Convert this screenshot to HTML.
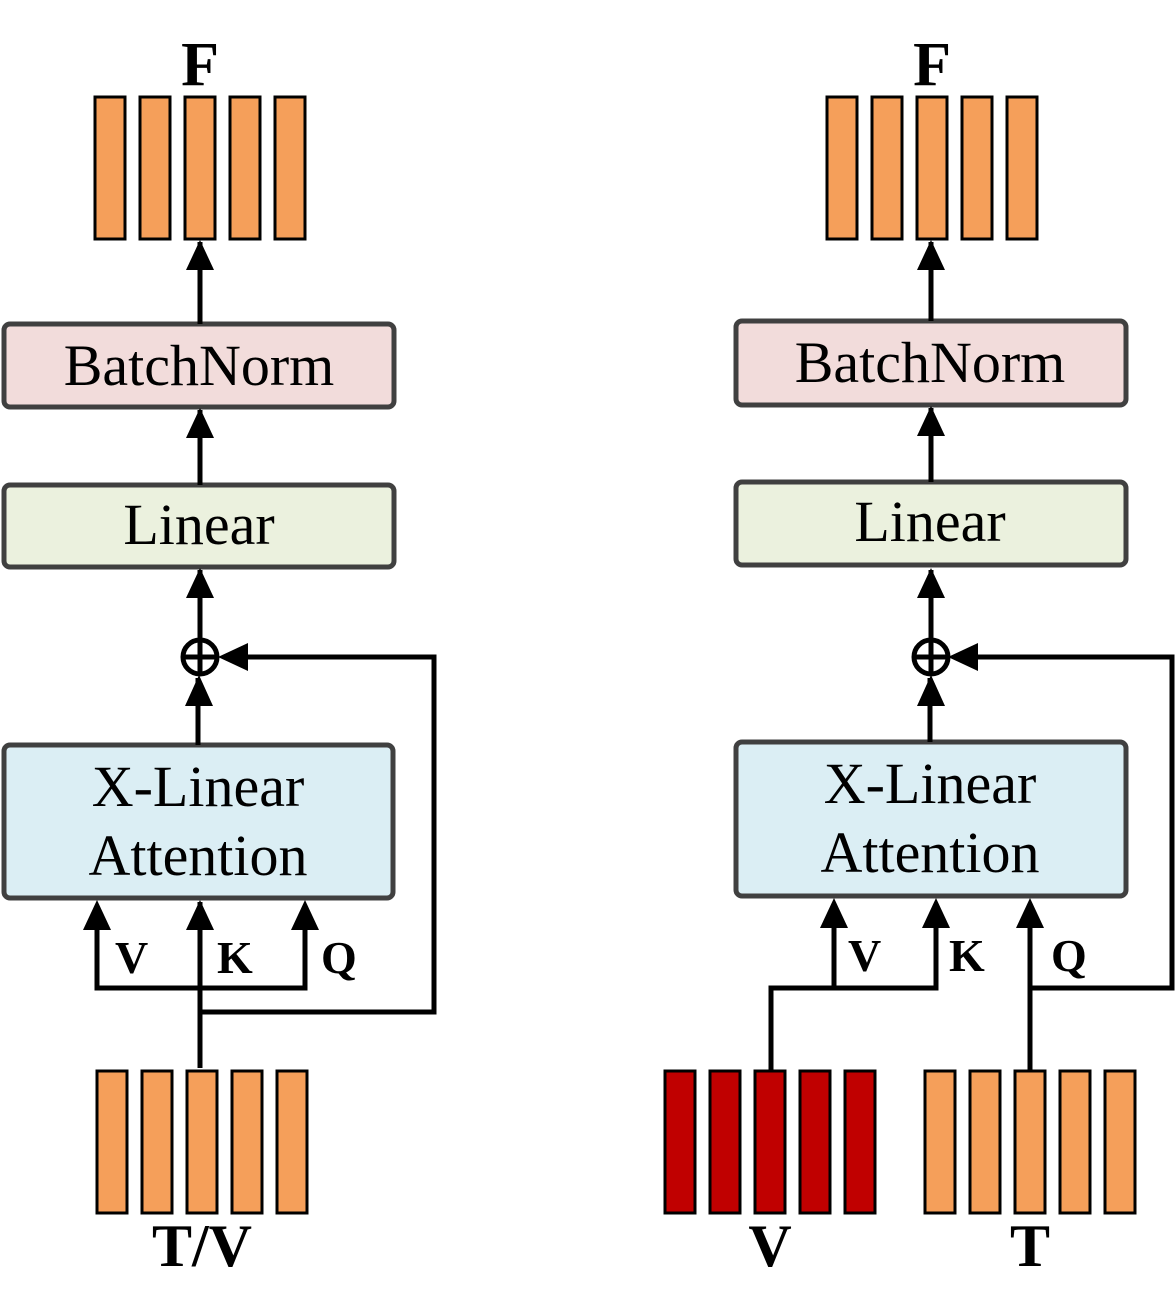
<!DOCTYPE html>
<html><head><meta charset="utf-8"><style>html,body{margin:0;padding:0;background:#fff}svg{display:block}</style></head><body>
<svg width="1175" height="1313" viewBox="0 0 1175 1313" xmlns="http://www.w3.org/2000/svg" font-family="'Liberation Serif', serif">
<style>
.bo{fill:#f59f5a;stroke:#000;stroke-width:3}
.br{fill:#c00000;stroke:#000;stroke-width:3}
.ln{stroke:#000;stroke-width:5;fill:none}
.box{stroke:#404040;stroke-width:5}
.t{font-size:58px}
</style>
<!-- LEFT -->
<g>
<rect class="bo" x="95" y="97" width="30" height="142"/><rect class="bo" x="140" y="97" width="30" height="142"/><rect class="bo" x="185" y="97" width="30" height="142"/><rect class="bo" x="230" y="97" width="30" height="142"/><rect class="bo" x="275" y="97" width="30" height="142"/>
<text x="200" y="85" font-size="62" font-weight="bold" text-anchor="middle">F</text>
<rect class="box" x="4" y="324" width="390" height="83" rx="6" fill="#f2dcdb"/>
<text class="t" x="199" y="385" text-anchor="middle">BatchNorm</text>
<rect class="box" x="4" y="485" width="390" height="82" rx="6" fill="#ebf1de"/>
<text class="t" x="199" y="544" text-anchor="middle">Linear</text>
<rect class="box" x="4" y="745" width="389" height="153" rx="6" fill="#dbeef4"/>
<text class="t" x="198" y="806" text-anchor="middle">X-Linear</text>
<text class="t" x="198" y="875" text-anchor="middle">Attention</text>
<circle cx="200" cy="657" r="17" fill="none" stroke="#000" stroke-width="5"/>
<path class="ln" d="M183,657 H217 M200,640 V674"/>
<path class="ln" d="M200,324 V242"/><path d="M186,270 L200,240 L214,270 z"/>
<path class="ln" d="M200,485 V410"/><path d="M186,438 L200,408 L214,438 z"/>
<path class="ln" d="M200,640 V570"/><path d="M186,598 L200,568 L214,598 z"/>
<path class="ln" d="M198,745 V678"/><path d="M185,706 L199,675 L213,706 z"/>
<path class="ln" d="M200,1012 H434 V657 H240"/><path d="M248,643 L218,657 L248,671 z"/>
<path class="ln" d="M200,1068 V902 M97,930 V988 H305 V930"/>
<path d="M83,930 L97,900 L111,930 z"/><path d="M186,930 L200,900 L214,930 z"/><path d="M291,930 L305,900 L319,930 z"/>
<text x="115" y="973" font-size="46" font-weight="bold">V</text>
<text x="217" y="973" font-size="46" font-weight="bold">K</text>
<text x="321" y="973" font-size="46" font-weight="bold">Q</text>
<rect class="bo" x="97" y="1071" width="30" height="142"/><rect class="bo" x="142" y="1071" width="30" height="142"/><rect class="bo" x="187" y="1071" width="30" height="142"/><rect class="bo" x="232" y="1071" width="30" height="142"/><rect class="bo" x="277" y="1071" width="30" height="142"/>
<text x="202" y="1266" font-size="60" font-weight="bold" text-anchor="middle">T/V</text>
</g>
<!-- RIGHT -->
<g>
<rect class="bo" x="827" y="97" width="30" height="142"/><rect class="bo" x="872" y="97" width="30" height="142"/><rect class="bo" x="917" y="97" width="30" height="142"/><rect class="bo" x="962" y="97" width="30" height="142"/><rect class="bo" x="1007" y="97" width="30" height="142"/>
<text x="932" y="85" font-size="62" font-weight="bold" text-anchor="middle">F</text>
<rect class="box" x="736" y="321" width="390" height="84" rx="6" fill="#f2dcdb"/>
<text class="t" x="930" y="382" text-anchor="middle">BatchNorm</text>
<rect class="box" x="736" y="482" width="390" height="83" rx="6" fill="#ebf1de"/>
<text class="t" x="930" y="541" text-anchor="middle">Linear</text>
<rect class="box" x="736" y="742" width="390" height="154" rx="6" fill="#dbeef4"/>
<text class="t" x="930" y="803" text-anchor="middle">X-Linear</text>
<text class="t" x="930" y="872" text-anchor="middle">Attention</text>
<circle cx="931" cy="657" r="17" fill="none" stroke="#000" stroke-width="5"/>
<path class="ln" d="M914,657 H948 M931,640 V674"/>
<path class="ln" d="M931,321 V242"/><path d="M917,270 L931,240 L945,270 z"/>
<path class="ln" d="M931,482 V408"/><path d="M917,436 L931,406 L945,436 z"/>
<path class="ln" d="M931,640 V570"/><path d="M917,598 L931,568 L945,598 z"/>
<path class="ln" d="M930,742 V678"/><path d="M917,706 L931,675 L945,706 z"/>
<path class="ln" d="M1030,988 H1172 V657 H970"/><path d="M978,643 L948,657 L978,671 z"/>
<path class="ln" d="M771,1071 V988 H936 V928 M834,988 V928 M1030,1071 V928"/>
<path d="M820,928 L834,898 L848,928 z"/><path d="M922,928 L936,898 L950,928 z"/><path d="M1016,928 L1030,898 L1044,928 z"/>
<text x="848" y="971" font-size="46" font-weight="bold">V</text>
<text x="949" y="971" font-size="46" font-weight="bold">K</text>
<text x="1051" y="971" font-size="46" font-weight="bold">Q</text>
<rect class="br" x="665" y="1071" width="30" height="142"/><rect class="br" x="710" y="1071" width="30" height="142"/><rect class="br" x="755" y="1071" width="30" height="142"/><rect class="br" x="800" y="1071" width="30" height="142"/><rect class="br" x="845" y="1071" width="30" height="142"/>
<rect class="bo" x="925" y="1071" width="30" height="142"/><rect class="bo" x="970" y="1071" width="30" height="142"/><rect class="bo" x="1015" y="1071" width="30" height="142"/><rect class="bo" x="1060" y="1071" width="30" height="142"/><rect class="bo" x="1105" y="1071" width="30" height="142"/>
<text x="770" y="1266" font-size="60" font-weight="bold" text-anchor="middle">V</text>
<text x="1030" y="1266" font-size="60" font-weight="bold" text-anchor="middle">T</text>
</g>
</svg>
</body></html>
